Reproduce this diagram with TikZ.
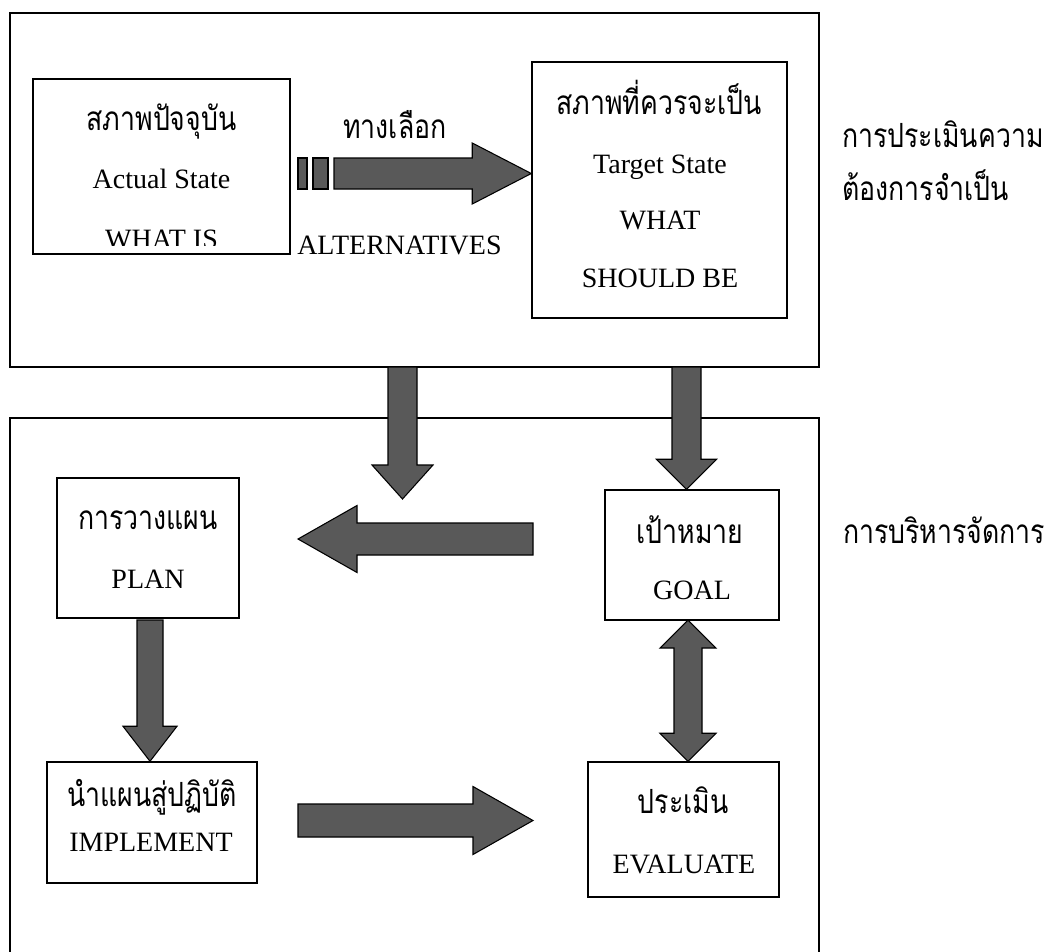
\documentclass[tikz,border=0pt]{standalone}
\usepackage{fontspec}
\setmainfont{Liberation Serif}
\newfontfamily\thaifont[Script=Thai,FakeStretch=0.8]{Loma}
\usetikzlibrary{calc, positioning, fit}

% block arrow: start, tip, half shaft, half head, head length
\newcommand{\fatarrow}[5]{%
	\coordinate (fa-b) at ($(#2)!#5!(#1)$);
	\draw[blockarrow] ($(#1)!#3!-90:(#2)$) -- ($(fa-b)!#3!-90:(#2)$) -- ($(fa-b)!#4!-90:(#2)$)
	-- (#2) -- ($(fa-b)!#4!90:(#2)$) -- ($(fa-b)!#3!90:(#2)$) -- ($(#1)!#3!90:(#2)$) -- cycle;
}
% block arrow with two heads: end a, end b, half shaft, half head, head length
\newcommand{\fatdblarrow}[5]{%
	\coordinate (fd-a) at ($(#1)!#5!(#2)$);
	\coordinate (fd-b) at ($(#2)!#5!(#1)$);
	\draw[blockarrow] (#1) -- ($(fd-a)!#4!-90:(#2)$) -- ($(fd-a)!#3!-90:(#2)$) -- ($(fd-b)!#3!-90:(#2)$)
	-- ($(fd-b)!#4!-90:(#2)$) -- (#2) -- ($(fd-b)!#4!90:(#2)$) -- ($(fd-b)!#3!90:(#2)$)
	-- ($(fd-a)!#3!90:(#2)$) -- ($(fd-a)!#4!90:(#2)$) -- cycle;
}
\def\pxu{0.75pt}

\begin{document}
\begin{tikzpicture}[x=0.75pt, y=-0.75pt, line join=miter]
	
	% Styles
	\tikzset{
		frame/.style={draw, line width=0.9pt, inner sep=0pt},
		box/.style={draw, line width=1.1pt, inner sep=0pt},
		blockarrow/.style={draw=black, line width=0.8pt, fill=black!65},
		entext/.style={anchor=base, inner sep=0pt, font=\fontsize{21}{25}\selectfont},
		thtext/.style={anchor=base, inner sep=0pt, font=\thaifont\fontsize{25}{30}\selectfont}
	}
	
	\useasboundingbox (0,0) rectangle (1050,951);
	
	%======================
	% FRAMES
	%======================
	\node[frame, fit={(10,13) (819,367)}] (needs) {};
	\node[frame, fit={(10,418) (819,1000)}] (manage) {};
	
	\node[thtext, anchor=base west] (needs-a) at (842,147) {การประเมินความ};
	\node[thtext, anchor=base west] (needs-b) at (842,200) {ต้องการจำเป็น};
	\node[thtext, anchor=base west] (manage-a) at (843,543) {การบริหารจัดการ};
	
	%======================
	% NEEDS ASSESSMENT
	%======================
	\node[box, fit={(33,79) (290,254)}] (actual) {};
	\node[thtext] (actual-th) at (161.5,130) {สภาพปัจจุบัน};
	\node[entext] (actual-en) at (161.5,188) {Actual State};
	\begin{scope}
		\clip (33,79) rectangle (290,245);
		\node[entext] (actual-what) at (161.5,248) {WHAT IS};
	\end{scope}
	
	\node[box, fit={(532,62) (787,318)}] (target) {};
	\node[thtext] (target-th) at (659,114) {สภาพที่ควรจะเป็น};
	\node[entext] (target-en) at (660,173) {Target State};
	\node[entext] (target-what) at (660,229) {WHAT};
	\node[entext] (target-be) at (660,287) {SHOULD BE};
	
	% alternatives arrow with its two small blocks
	\draw[blockarrow] (298,158) rectangle (307,189);
	\draw[blockarrow] (313,158) rectangle (328,189);
	\coordinate (altS) at (334,173.5);
	\coordinate (altT) at (target.west |- altS);
	\fatarrow{altS}{altT}{15.5*\pxu}{30.5*\pxu}{59*\pxu}
	\node[thtext] (alt-th) at (395,138) {ทางเลือก};
	\node[entext, anchor=base west] (alt-en) at (297,254) {ALTERNATIVES};
	
	%======================
	% MANAGEMENT
	%======================
	\node[box, fit={(57,478) (239,618)}] (plan) {};
	\node[thtext] (plan-th) at (148,529) {การวางแผน};
	\node[entext] (plan-en) at (148,588) {PLAN};
	
	\node[box, fit={(47,762) (257,883)}] (impl) {};
	\node[thtext] (impl-th) at (152,806) {นำแผนสู่ปฏิบัติ};
	\node[entext] (impl-en) at (151,851) {IMPLEMENT};
	
	\node[box, fit={(605,490) (779,620)}] (goal) {};
	\node[thtext] (goal-th) at (690,543) {เป้าหมาย};
	\node[entext] (goal-en) at (692,599) {GOAL};
	
	\node[box, fit={(588,762) (779,897)}] (eval) {};
	\node[thtext] (eval-th) at (683,813) {ประเมิน};
	\node[entext] (eval-en) at (684,873) {EVALUATE};
	
	% arrows between the parts
	\coordinate (d1S) at (402.5,367);
	\coordinate (d1T) at (402.5,499);
	\fatarrow{d1S}{d1T}{14.5*\pxu}{30.5*\pxu}{34*\pxu}
	
	\coordinate (d2S) at (686.5,367);
	\coordinate (d2T) at (d2S |- goal.north);
	\fatarrow{d2S}{d2T}{14.5*\pxu}{30*\pxu}{30*\pxu}
	
	\coordinate (lS) at (533,539);
	\coordinate (lT) at (298,539);
	\fatarrow{lS}{lT}{16*\pxu}{33.5*\pxu}{59*\pxu}
	
	\coordinate (pS) at (150,620);
	\coordinate (pT) at (pS |- impl.north);
	\fatarrow{pS}{pT}{13*\pxu}{27*\pxu}{35*\pxu}
	
	\coordinate (rS) at (298,820.5);
	\coordinate (rT) at (533,820.5);
	\fatarrow{rS}{rT}{16.5*\pxu}{34*\pxu}{60*\pxu}
	
	\coordinate (gS) at (688,620);
	\coordinate (gT) at (gS |- eval.north);
	\fatdblarrow{gS}{gT}{14*\pxu}{28*\pxu}{28*\pxu}
\end{tikzpicture}
\end{document}
